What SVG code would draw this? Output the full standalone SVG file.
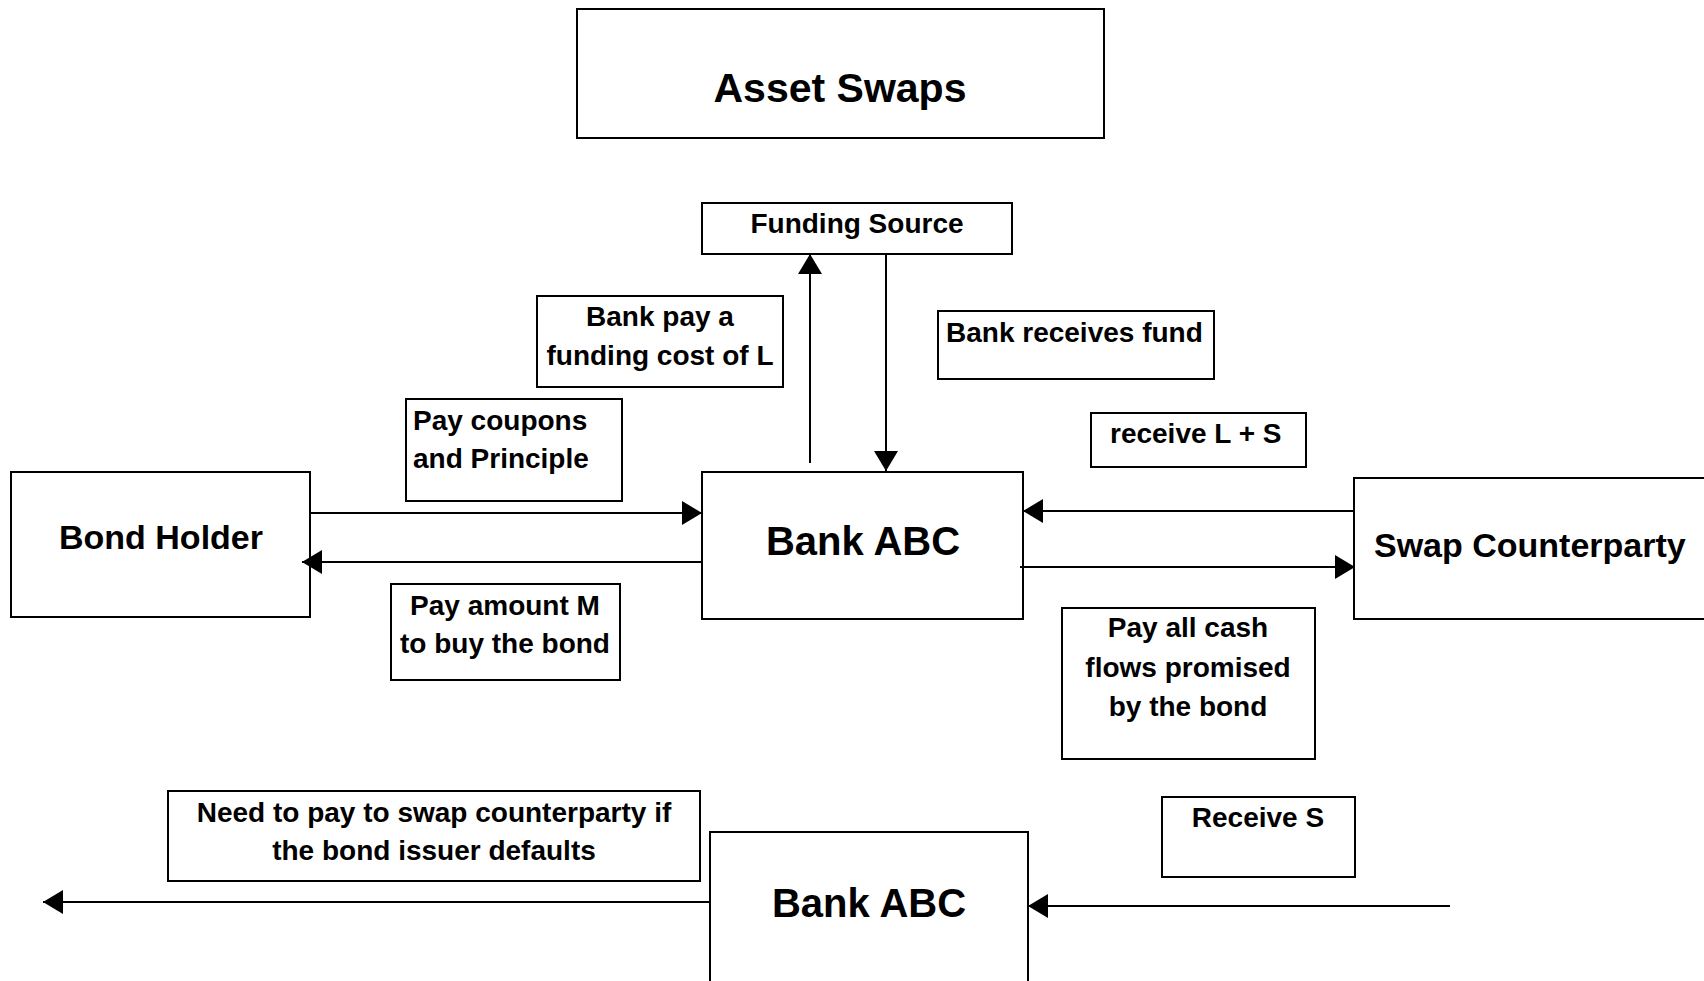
<svg xmlns="http://www.w3.org/2000/svg" width="1704" height="981" viewBox="0 0 1704 981">
<style>
.box{fill:#fff;stroke:#000;stroke-width:2}
.t{font-family:"Liberation Sans",Arial,sans-serif;font-weight:bold;fill:#000}
.s{font-size:28px}
.m{font-size:34px}
.l{font-size:40px}
.c{text-anchor:middle}
.conn line{stroke:#000;stroke-width:2;marker-end:url(#ah)}
</style>
<defs>
<marker id="ah" markerUnits="userSpaceOnUse" markerWidth="21" markerHeight="24" refX="20" refY="12" orient="auto">
<path d="M0,0 L20,12 L0,24 z" fill="#000"/>
</marker>
</defs>
<rect width="1704" height="981" fill="#fff"/>
<g id="title"><rect class="box" x="577" y="9" width="527" height="129"/><text class="t c" x="840" y="102" font-size="41">Asset Swaps</text></g>
<g id="funding"><rect class="box" x="702" y="203" width="310" height="51"/><text class="t s c" x="857" y="233">Funding Source</text></g>
<g id="lbl-bankpay"><rect class="box" x="537" y="296" width="246" height="91"/><text class="t s c" x="660" y="326">Bank pay a</text><text class="t s c" x="660" y="365">funding cost of L</text></g>
<g id="lbl-bankrecv"><rect class="box" x="938" y="311" width="276" height="68"/><text class="t s" x="946" y="342">Bank receives fund</text></g>
<g id="lbl-coupons"><rect class="box" x="406" y="399" width="216" height="102"/><text class="t s" x="413" y="430">Pay coupons</text><text class="t s" x="413" y="468">and Principle</text></g>
<g id="lbl-recvLS"><rect class="box" x="1091" y="413" width="215" height="54"/><text class="t s" x="1110" y="443">receive L + S</text></g>
<g id="bondholder"><rect class="box" x="11" y="472" width="299" height="145"/><text class="t m c" x="161" y="549">Bond Holder</text></g>
<g id="bank"><rect class="box" x="702" y="472" width="321" height="147"/><text class="t l c" x="863" y="555">Bank ABC</text></g>
<g id="swap"><rect class="box" x="1354" y="478" width="360" height="141"/><text class="t m" x="1374" y="557">Swap Counterparty</text></g>
<g id="lbl-payM"><rect class="box" x="391" y="584" width="229" height="96"/><text class="t s c" x="505" y="615">Pay amount M</text><text class="t s c" x="505" y="653">to buy the bond</text></g>
<g id="lbl-payall"><rect class="box" x="1062" y="608" width="253" height="151"/><text class="t s c" x="1188" y="637">Pay all cash</text><text class="t s c" x="1188" y="677">flows promised</text><text class="t s c" x="1188" y="716">by the bond</text></g>
<g id="lbl-need"><rect class="box" x="168" y="791" width="532" height="90"/><text class="t s c" x="434" y="822">Need to pay to swap counterparty if</text><text class="t s c" x="434" y="860">the bond issuer defaults</text></g>
<g id="lbl-recvS"><rect class="box" x="1162" y="797" width="193" height="80"/><text class="t s c" x="1258" y="827">Receive S</text></g>
<g id="bank2"><rect class="box" x="710" y="832" width="318" height="160"/><text class="t l c" x="869" y="917">Bank ABC</text></g>
<g id="connectors" class="conn">
<line x1="810" y1="463" x2="810" y2="254"/>
<line x1="886" y1="254" x2="886" y2="471"/>
<line x1="310" y1="513" x2="702" y2="513"/>
<line x1="702" y1="562" x2="302" y2="562"/>
<line x1="1354" y1="511" x2="1023" y2="511"/>
<line x1="1020" y1="567" x2="1355" y2="567"/>
<line x1="710" y1="902" x2="43" y2="902"/>
<line x1="1450" y1="906" x2="1028" y2="906"/>
</g>
</svg>
